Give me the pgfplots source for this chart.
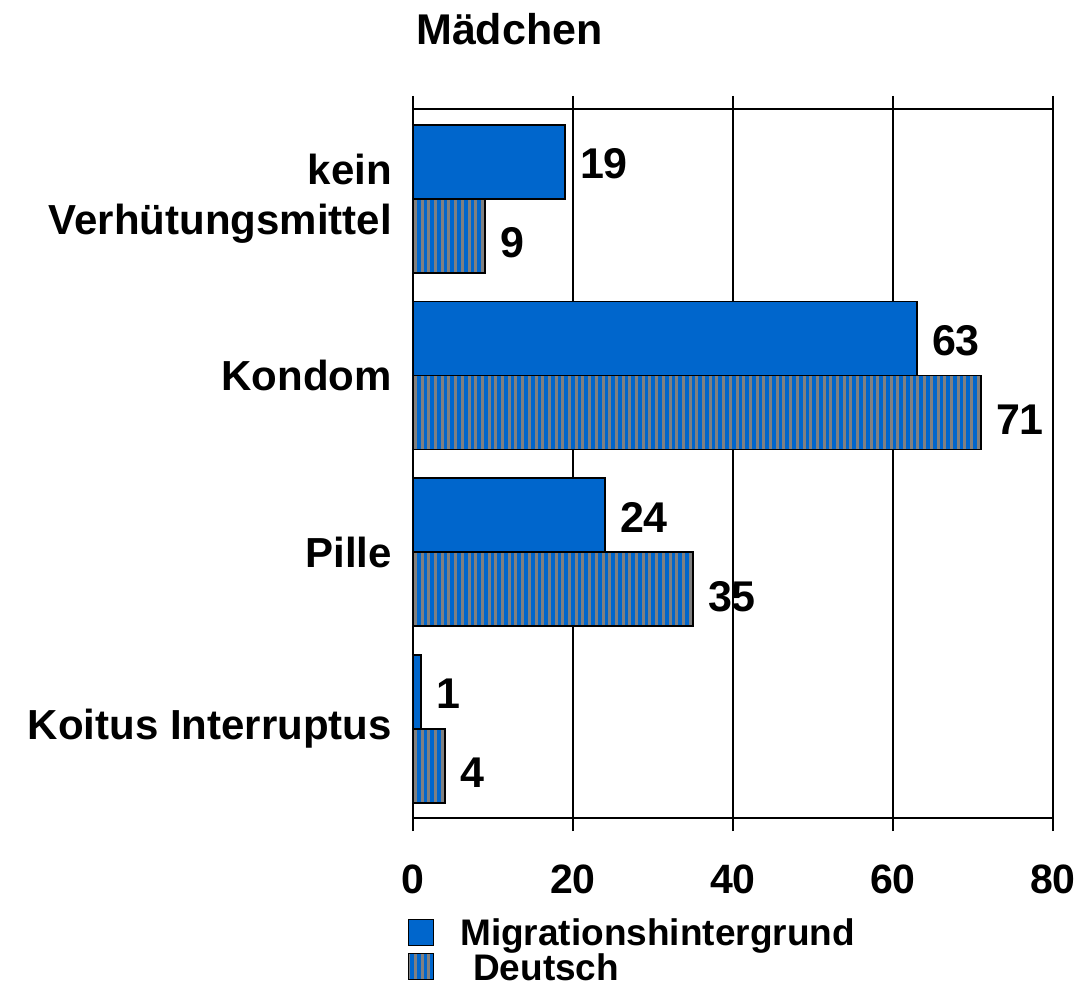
\documentclass[border=0pt]{standalone}
\usepackage{pgfplots}
\pgfplotsset{compat=1.18}
\usepackage{fontspec}
\setmainfont{Liberation Sans}
\usetikzlibrary{patterns.meta}
\definecolor{mblue}{HTML}{0066CC}
\definecolor{mgray}{HTML}{808080}
\begin{document}
\begin{tikzpicture}
\useasboundingbox (-413pt,-171pt) rectangle (664pt,818pt);
\begin{axis}[
  scale only axis,
  width=640pt, height=709pt,
  xmin=0, xmax=80,
  ymin=-0.505, ymax=3.51,
  xbar, bar width=0.419,
  xtick={0,20,40,60,80},
  ytick={0,1,2,3},
  yticklabels={Koitus Interruptus,Pille,Kondom,{kein\\Verhütungsmittel}},
  xmajorgrids,
  grid style={black, line width=1.3pt},
  axis line style={line width=1.8pt},
  tick align=outside,
  major tick length=13pt,
  xtick style={black, line width=1.3pt},
  ytick style={draw=none},
  /pgf/number format/assume math mode=true,
  xticklabel style={font=\fontsize{41}{44}\selectfont\bfseries, anchor=north, yshift=-30pt},
  yticklabel style={font=\fontsize{42}{50}\selectfont\bfseries, align=right, anchor=east, inner sep=0pt, xshift=-8pt},
  nodes near coords,
  every node near coord/.append style={font=\fontsize{43}{48}\selectfont\bfseries, anchor=west, xshift=11pt},
  legend style={draw=none, fill=none, at={(-0.0078,-0.139)}, anchor=north west, inner sep=0pt,
    font=\fontsize{37}{40}\selectfont\bfseries, row sep=4pt,
    nodes={text depth=0pt},
    /tikz/every odd column/.append style={column sep=24pt}},
  legend cell align=left,
  legend image code/.code={\draw[#1, line width=1pt] (0pt,-13pt) rectangle (25pt,13pt);},
]
\addplot[fill=mblue, draw=black, line width=1.5pt, bar shift=0.2095,
  every node near coord/.append style={yshift=-2pt}]
  coordinates {(1,0) (24,1) (63,2) (19,3)};
\addplot[fill=mblue, draw=black, line width=1.5pt, bar shift=-0.2095,
  every node near coord/.append style={yshift=-7pt},
  postaction={pattern={Lines[angle=90, distance=6.7pt, line width=3pt]}, pattern color=mgray}]
  coordinates {(4,0) (35,1) (71,2) (9,3)};
\legend{Migrationshintergrund, \hspace{0.35em}Deutsch}
\end{axis}
\node[anchor=base west, inner sep=0pt, font=\fontsize{43}{48}\selectfont\bfseries] at (3pt,773pt) {Mädchen};
\end{tikzpicture}
\end{document}
